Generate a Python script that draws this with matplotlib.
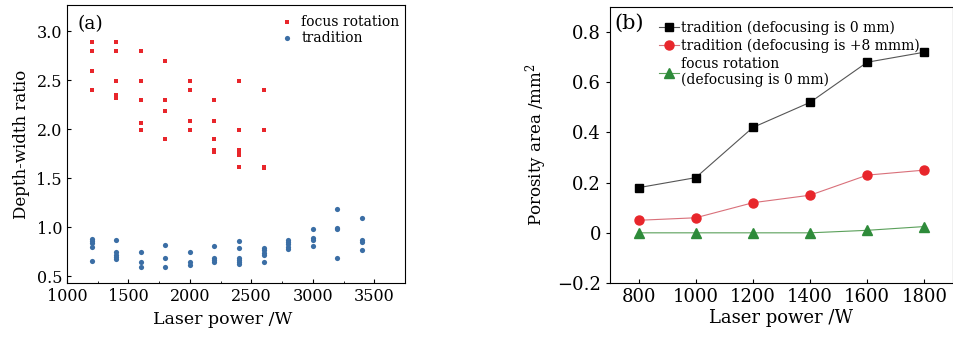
import matplotlib
matplotlib.use("Agg")
import matplotlib.pyplot as plt
import numpy as np

plt.rcParams["font.family"] = ["DejaVu Serif"]
plt.rcParams["mathtext.fontset"] = "dejavuserif"

# (a) depth-width ratio vs laser power
focus_x = [1200] * 4 + [1400] * 5 + [1600] * 5 + [1800] * 4 + [2000] * 4 + [2200] * 5 + [2400] * 6 + [2600] * 4
focus_y = [2.89, 2.80, 2.60, 2.40,
           2.89, 2.80, 2.49, 2.35, 2.32,
           2.80, 2.49, 2.30, 2.06, 1.99,
           2.70, 2.30, 2.19, 1.90,
           2.49, 2.40, 2.09, 1.99,
           2.30, 2.09, 1.90, 1.79, 1.77,
           2.49, 1.99, 1.79, 1.77, 1.74, 1.62,
           2.40, 1.99, 1.62, 1.61]

trad_x = ([1200] * 5 + [1400] * 5 + [1600] * 3 + [1800] * 3 + [2000] * 3 + [2200] * 4
          + [2400] * 6 + [2600] * 5 + [2800] * 5 + [3000] * 4 + [3200] * 4 + [3400] * 4)
trad_y = [0.88, 0.86, 0.84, 0.80, 0.65,
          0.87, 0.75, 0.72, 0.70, 0.68,
          0.745, 0.64, 0.595,
          0.82, 0.69, 0.595,
          0.745, 0.64, 0.615,
          0.81, 0.69, 0.66, 0.64,
          0.86, 0.79, 0.69, 0.66, 0.64, 0.62,
          0.785, 0.765, 0.74, 0.72, 0.64,
          0.87, 0.85, 0.83, 0.80, 0.78,
          0.98, 0.89, 0.87, 0.81,
          1.19, 0.99, 0.98, 0.69,
          1.09, 0.87, 0.85, 0.77]

# (b) porosity area vs laser power
power = [800, 1000, 1200, 1400, 1600, 1800]
trad_0mm = [0.18, 0.22, 0.42, 0.52, 0.68, 0.72]
trad_8mm = [0.05, 0.06, 0.12, 0.15, 0.23, 0.25]
focus_0mm = [0.0, 0.0, 0.0, 0.0, 0.01, 0.025]

fig = plt.figure(figsize=(9.54, 3.38), dpi=100)
ax1 = fig.add_axes([0.0702, 0.1627, 0.3543, 0.8223])
ax2 = fig.add_axes([0.6394, 0.1627, 0.3595, 0.8165])

ax1.scatter(focus_x, focus_y, marker="s", s=12, color="#e8262b", linewidths=0, label="focus rotation")
ax1.scatter(trad_x, trad_y, marker="o", s=14, color="#3b6ea5", linewidths=0, label="tradition")
ax1.set_xlim(1000, 3750)
ax1.set_ylim(0.43, 3.27)
ax1.set_xticks([1000, 1500, 2000, 2500, 3000, 3500])
ax1.set_yticks([0.5, 1.0, 1.5, 2.0, 2.5, 3.0])
ax1.set_yticklabels(["0.5", "1.0", "1.5", "2.0", "2.5", "3.0"])
ax1.xaxis.set_minor_locator(plt.MultipleLocator(250))
ax1.tick_params(labelsize=11.5, direction="in", length=3)
ax1.tick_params(which="minor", direction="in", length=1.5)
ax1.set_xlabel("Laser power /W", fontsize=12.5)
ax1.xaxis.set_label_coords(0.46, -0.1)
ax1.set_ylabel("Depth-width ratio", fontsize=12, labelpad=5)
ax1.text(0.03, 0.965, "(a)", transform=ax1.transAxes, fontsize=13.5, va="top")
ax1.legend(loc="upper right", bbox_to_anchor=(1.0, 0.985), frameon=False, fontsize=10,
           handletextpad=0.05, borderaxespad=0.2, labelspacing=0.15, borderpad=0.2)

ax2.plot(power, trad_0mm, color="#555555", lw=0.8, marker="s", ms=6,
         mfc="black", mec="black", label="tradition (defocusing is 0 mm)")
ax2.plot(power, trad_8mm, color="#d9707a", lw=0.8, marker="o", ms=6.5,
         mfc="#e8262b", mec="#e8262b", label="tradition (defocusing is +8 mmm)")
ax2.plot(power, focus_0mm, color="#5aa05a", lw=0.8, marker="^", ms=6.5,
         mfc="#2e8b3a", mec="#2e8b3a", label="focus rotation\n(defocusing is 0 mm)")
ax2.set_xlim(700, 1900)
ax2.set_ylim(-0.2, 0.9)
ax2.set_xticks(power)
ax2.set_yticks([-0.2, 0, 0.2, 0.4, 0.6, 0.8])
ax2.set_yticklabels(["\u22120.2", "0", "0.2", "0.4", "0.6", "0.8"])
ax2.tick_params(axis="x", labelsize=13, direction="in", length=3)
ax2.tick_params(axis="y", labelsize=13, direction="out", length=3)
ax2.set_xlabel("Laser power /W", fontsize=13, labelpad=2)
ax2.set_ylabel("Porosity area /mm$^2$", fontsize=12, labelpad=6)
ax2.text(0.012, 0.975, "(b)", transform=ax2.transAxes, fontsize=15, va="top")
ax2.legend(loc="upper left", bbox_to_anchor=(0.115, 0.985), frameon=False, fontsize=10,
           handlelength=1.4, handletextpad=0.2, labelspacing=0.25, borderpad=0.2)

for ax in (ax1, ax2):
    for sp in ax.spines.values():
        sp.set_linewidth(0.8)

fig.savefig("out.png", dpi=100)
